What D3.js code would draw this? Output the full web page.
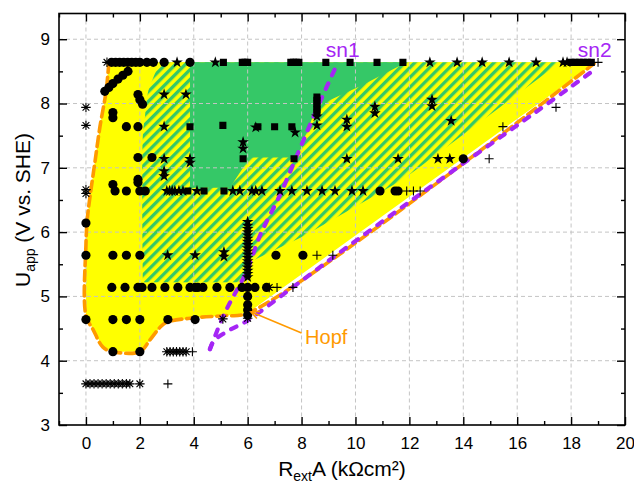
<!DOCTYPE html>
<html><head><meta charset="utf-8">
<script src="https://cdn.jsdelivr.net/npm/d3@7"></script>
<style>
body{margin:0;background:#fff}
svg{display:block}
text{font-family:"Liberation Sans",Arial,Helvetica,sans-serif}
</style>
</head><body>
<svg id="chart" width="634" height="494"></svg>
<script>
// ---------- data ----------
const xTickValues = [0,2,4,6,8,10,12,14,16,18,20];
const xMinorTicks = [-1,1,3,5,7,9,11,13,15,17,19];
const yTickValues = [3,4,5,6,7,8,9];
const yMinorTicks = [3.5,4.5,5.5,6.5,7.5,8.5];

// Hopf boundary (orange dashed), traced
const hopfCurve = [[0.85,8.64],[0.75,8.2],[0.52,7.64],[0.33,7.08],[0.15,6.55],[0.05,6.2],[0.0,5.8],[0.0,4.7],
  [0.27,4.48],[0.63,4.21],[1.0,4.14],[2.0,4.14],[2.37,4.32],[2.75,4.52],[3.0,4.6],[4.1,4.67],[5.1,4.7],[6.0,4.74],[18.85,8.62]];
const yellowTop = [[18.85,8.64],[0.85,8.64]];
// saddle-node curves (purple dashed)
const sn1Curve = [[4.6,4.18],[5.08,4.68],[5.34,4.9],[5.97,5.4],[6.46,5.95],[7.2,6.58],[7.94,7.3],[8.57,7.92],[9.35,8.64]];
const sn2Curve = [[4.6,4.18],[4.75,4.31],[5.34,4.48],[5.9,4.6],[7.7,5.15],[9.8,5.8],[12.5,6.62],[16.7,7.87],[18.95,8.55]];
// hatched (bistable/mixed) region
const hatchRegion = [[2.75,8.64],[2.3,8.17],[2.19,7.8],[2.11,7.5],[2.11,5.22],[5.8,5.22],[6.15,5.55],[8.05,5.93],[11.76,6.82],[17.6,8.64]];
// solid green region
const greenRegion = [[3.86,8.64],[11.9,8.64],[10.17,8.27],[8.57,7.96],[7.94,7.29],[7.76,7.16],[6.08,7.16],[5.34,6.69],[3.86,6.69]];

const circlePts = [
  [0.95,8.64],[1.1,8.64],[1.25,8.64],[1.4,8.64],[1.55,8.64],[1.7,8.64],[1.85,8.64],[2.0,8.64],[2.26,8.64],[2.5,8.64],[2.9,8.64],[3.86,8.64],
  [0.7,8.19],[0.85,8.25],[1.0,8.31],[1.19,8.38],[1.37,8.44],[1.56,8.5],
  [1.93,8.14],[2.0,8.06],[2.1,7.99],
  [1.0,7.86],[1.0,7.78],[1.5,7.64],[1.93,7.64],
  [1.93,7.16],[2.45,7.16],[1.93,6.82],[1.93,6.77],
  [1.0,6.74],[1.08,6.64],[1.5,6.64],[2.0,6.64],[2.2,6.64],
  [0,6.14],
  [0,5.64],[1,5.64],[1.5,5.64],[2,5.64],[7.05,5.64],[8.05,5.64],
  [0.96,5.14],[1.45,5.14],[1.93,5.14],[2.08,5.14],[2.45,5.14],[2.93,5.14],[3.41,5.14],[3.86,5.14],[4.05,5.14],[4.15,5.14],
  [4.34,5.14],[4.86,5.14],[5.34,5.14],[5.79,5.14],[6.0,5.14],[6.27,5.14],[6.7,5.14],
  [6.0,5.0],[6.0,4.87],[6.0,4.79],[6.0,4.71],
  [0,4.64],[1,4.64],[1.5,4.64],[2,4.64],[3.04,4.64],[4.05,4.64],
  [1,4.14],[2,4.14],
  [10.91,6.64],[11.47,6.64],[11.58,6.64],[14.0,7.14]
];
const starPts = [
  [3.38,8.64],[4.8,8.64],[12.76,8.64],[13.77,8.64],[14.7,8.64],[15.7,8.64],[16.7,8.64],[17.7,8.64],[17.85,8.64],
  [2.9,8.14],[3.71,8.14],[12.84,8.06],[12.84,7.96],[10.72,7.95],[10.72,7.85],[9.68,7.75],[9.68,7.64],
  [8.57,7.8],[8.57,7.66],[13.55,7.73],[2.9,7.64],[6.3,7.63],[7.76,7.55],[5.83,7.4],[5.83,7.3],
  [2.9,7.14],[3.86,7.14],[3.86,7.08],[9.68,7.14],[11.58,7.14],[13.06,7.14],[13.5,7.14],
  [2.9,6.95],[2.9,6.87],
  [3.0,6.64],[3.1,6.64],[3.2,6.64],[3.3,6.64],[3.45,6.64],[3.6,6.64],[4.12,6.64],[5.45,6.64],[5.71,6.64],[6.16,6.64],[6.3,6.64],
  [6.53,6.64],[7.2,6.64],[7.64,6.64],[8.2,6.64],[8.76,6.64],[9.24,6.64],[9.87,6.64],[10.28,6.64],
  [3.03,5.64],[4.05,5.64],[5.12,5.69],[5.12,5.62],
  [6.0,6.16],[6.0,6.1],[6.0,6.05],[6.0,6.0],[6.0,5.95],[6.0,5.9],[6.0,5.85],[6.0,5.8],[6.0,5.75],[6.0,5.7],[6.0,5.65],
  [6.0,5.6],[6.0,5.55],[6.0,5.5],[6.0,5.45],[6.0,5.4],[6.0,5.35],[6.0,5.3]
];
const squarePts = [
  [5.1,8.64],[5.8,8.64],[5.9,8.64],[6.0,8.64],[7.6,8.64],[7.7,8.64],[7.8,8.64],[7.9,8.64],[8.9,8.64],[9.8,8.64],[10.8,8.64],[11.76,8.64],
  [18.0,8.64],[18.15,8.64],[18.3,8.64],[18.45,8.64],[18.6,8.64],[18.75,8.64],
  [8.57,8.1],[8.57,8.05],[8.57,8.0],[8.57,7.95],[8.57,7.9],[8.57,7.85],
  [3.86,7.64],[5.08,7.66],[6.38,7.64],[7.0,7.64],[7.64,7.64],
  [5.83,7.14],[7.72,7.14],
  [3.78,6.64],[4.38,6.64],[5.12,6.64]
];
const asteriskPts = [
  [0.78,8.64],[0,7.94],[0,7.66],[0,6.66],[0,6.6],[6.8,5.14],[5.08,4.65],[6.0,4.66],
  [3.0,4.14],[3.12,4.14],[3.24,4.14],[3.36,4.14],[3.48,4.14],[3.6,4.14],[3.72,4.14],
  [0,3.64],[0.15,3.64],[0.3,3.64],[0.45,3.64],[0.6,3.64],[0.75,3.64],[0.9,3.64],[1.05,3.64],[1.2,3.64],[1.35,3.64],[1.5,3.64],[1.63,3.64],[2.0,3.64]
];
const plusPts = [
  [19.0,8.64],[17.44,7.94],[15.47,7.64],[14.96,7.14],
  [11.9,6.64],[12.15,6.64],[12.4,6.64],
  [8.57,5.64],[9.16,5.64],[7.09,5.14],[7.68,5.14],
  [3.95,4.14],[3.04,3.64]
];
const labelsSN = [{t:"sn1",x:8.9,y:8.72},{t:"sn2",x:18.25,y:8.72}];
const hopfLabel = {t:"Hopf",x:8.13,y:4.26};
const hopfArrow = [[8.0,4.43],[6.12,4.76]];

// ---------- drawing ----------
const svg=d3.select("#chart");
const x=d3.scaleLinear().domain([-1,20]).range([59,625]);
const y=d3.scaleLinear().domain([3,9.4]).range([425,13.5]);
const L=59,R=625,T=13.5,B=425;

const YEL="#ffff00", GRN="#35c867", ORG="#ff9a00", PUR="#a526f5";

const defs=svg.append("defs");
defs.append("clipPath").attr("id","clip").append("rect").attr("x",L).attr("y",T).attr("width",R-L).attr("height",B-T);
const pat=defs.append("pattern").attr("id","hatch").attr("patternUnits","userSpaceOnUse")
  .attr("width",7).attr("height",7).attr("patternTransform","rotate(45)");
pat.append("rect").attr("width",7).attr("height",7).attr("fill",YEL);
pat.append("rect").attr("width",3.3).attr("height",7).attr("fill",GRN);

const g=svg.append("g").attr("clip-path","url(#clip)");
const line=d3.line().x(d=>x(d[0])).y(d=>y(d[1]));
const smooth=d3.line().x(d=>x(d[0])).y(d=>y(d[1])).curve(d3.curveCatmullRom.alpha(0.5));

g.append("path").attr("d",line(hopfCurve.concat(yellowTop))+"Z").attr("fill",YEL);
g.append("path").attr("d",smooth(hatchRegion.slice(0,5))+"L"+hatchRegion.slice(5).map(d=>x(d[0])+","+y(d[1])).join("L")+"Z").attr("fill","url(#hatch)");
g.append("path").attr("d",line(greenRegion)+"Z").attr("fill",GRN);

// grid
g.selectAll(".gx").data(xTickValues.filter(v=>v<20)).join("line")
  .attr("x1",d=>x(d)).attr("x2",d=>x(d)).attr("y1",T).attr("y2",B)
  .attr("stroke","#c4c4c4").attr("stroke-width",1).attr("stroke-dasharray","4,3");
g.selectAll(".gy").data(yTickValues.filter(v=>v>3)).join("line")
  .attr("y1",d=>y(d)).attr("y2",d=>y(d)).attr("x1",L).attr("x2",R)
  .attr("stroke","#c4c4c4").attr("stroke-width",1).attr("stroke-dasharray","4,3");

// curves
g.append("path").attr("d",smooth(hopfCurve)).attr("fill","none").attr("stroke",ORG)
  .attr("stroke-width",3.6).attr("stroke-dasharray","10,5").attr("stroke-linecap","round");
g.append("path").attr("d",smooth(sn1Curve)).attr("fill","none").attr("stroke",PUR)
  .attr("stroke-width",4.2).attr("stroke-dasharray","6,9").attr("stroke-linecap","round");
g.append("path").attr("d",smooth(sn2Curve)).attr("fill","none").attr("stroke",PUR)
  .attr("stroke-width",4.2).attr("stroke-dasharray","6,9").attr("stroke-linecap","round");

// markers
const symAst={draw(c,s){const r=Math.sqrt(s)/2,d=r*0.7071;c.moveTo(-r,0);c.lineTo(r,0);c.moveTo(0,-r);c.lineTo(0,r);c.moveTo(-d,-d);c.lineTo(d,d);c.moveTo(-d,d);c.lineTo(d,-d);}};
const symPlus={draw(c,s){const r=Math.sqrt(s)/2;c.moveTo(-r,0);c.lineTo(r,0);c.moveTo(0,-r);c.lineTo(0,r);}};
function marks(data,type,size,filled){
  g.append("g").selectAll("path").data(data).join("path")
    .attr("transform",d=>`translate(${x(d[0])},${y(d[1])})`)
    .attr("d",d3.symbol().type(type).size(size))
    .attr("fill",filled?"#000":"none").attr("stroke","#000").attr("stroke-width",filled?0:1.1);
}
marks(circlePts,d3.symbolCircle,66,true);
marks(squarePts,d3.symbolSquare,50,true);
marks(starPts,d3.symbolStar,42,true);
marks(asteriskPts,symAst,90,false);
marks(plusPts,symPlus,80,false);

// axes
const ax=svg.append("g");
const FONT="Liberation Sans, Arial, sans-serif";
function axisG(axis,tr){const a=ax.append("g").attr("transform",tr).call(axis);a.select(".domain").remove();a.selectAll("line").attr("stroke","#000").attr("stroke-width",1.4);return a;}
const bx=axisG(d3.axisBottom(x).tickValues(xTickValues).tickSize(-8).tickPadding(12).tickFormat(d3.format("d")),`translate(0,${B})`);
bx.selectAll("text").attr("font-size",17).attr("fill","#000").attr("font-family",FONT);
axisG(d3.axisBottom(x).tickValues(xMinorTicks).tickSize(-4).tickFormat(""),`translate(0,${B})`);
axisG(d3.axisTop(x).tickValues(xTickValues).tickSize(-8).tickFormat(""),`translate(0,${T})`);
axisG(d3.axisTop(x).tickValues(xMinorTicks).tickSize(-4).tickFormat(""),`translate(0,${T})`);
const ly=axisG(d3.axisLeft(y).tickValues(yTickValues).tickSize(-8).tickPadding(9).tickFormat(d3.format("d")),`translate(${L},0)`);
ly.selectAll("text").attr("font-size",17).attr("fill","#000").attr("font-family",FONT);
axisG(d3.axisLeft(y).tickValues(yMinorTicks).tickSize(-4).tickFormat(""),`translate(${L},0)`);
axisG(d3.axisRight(y).tickValues(yTickValues).tickSize(-8).tickFormat(""),`translate(${R},0)`);
axisG(d3.axisRight(y).tickValues(yMinorTicks).tickSize(-4).tickFormat(""),`translate(${R},0)`);

svg.append("rect").attr("x",L).attr("y",T).attr("width",R-L).attr("height",B-T)
  .attr("fill","none").attr("stroke","#000").attr("stroke-width",1.6);

// axis titles
const xt=svg.append("text").attr("x",(L+R)/2).attr("y",476).attr("text-anchor","middle").attr("font-size",21);
xt.append("tspan").text("R");
xt.append("tspan").text("ext").attr("font-size",14).attr("dy",5);
xt.append("tspan").text("A (kΩcm²)").attr("dy",-5);
const yt=svg.append("text").attr("transform",`translate(30,210) rotate(-90)`).attr("text-anchor","middle").attr("font-size",21);
yt.append("tspan").text("U");
yt.append("tspan").text("app").attr("font-size",14).attr("dy",5);
yt.append("tspan").text(" (V vs. SHE)").attr("dy",-5);

// annotations
svg.selectAll(".sn").data(labelsSN).join("text").attr("x",d=>x(d.x)).attr("y",d=>y(d.y))
  .attr("font-size",21).attr("fill",PUR).text(d=>d.t);
svg.append("text").attr("x",x(hopfLabel.x)).attr("y",y(hopfLabel.y)).attr("font-size",20).attr("fill",ORG).text(hopfLabel.t);
const [a0,a1]=hopfArrow;
const x0=x(a0[0]),y0=y(a0[1]),x1=x(a1[0]),y1=y(a1[1]);
const ang=Math.atan2(y1-y0,x1-x0),hl=9,hw=0.45;
svg.append("path").attr("d",`M${x0},${y0}L${x1},${y1}M${x1-hl*Math.cos(ang-hw)},${y1-hl*Math.sin(ang-hw)}L${x1},${y1}L${x1-hl*Math.cos(ang+hw)},${y1-hl*Math.sin(ang+hw)}`)
  .attr("fill","none").attr("stroke",ORG).attr("stroke-width",1.6);
</script>
</body></html>
